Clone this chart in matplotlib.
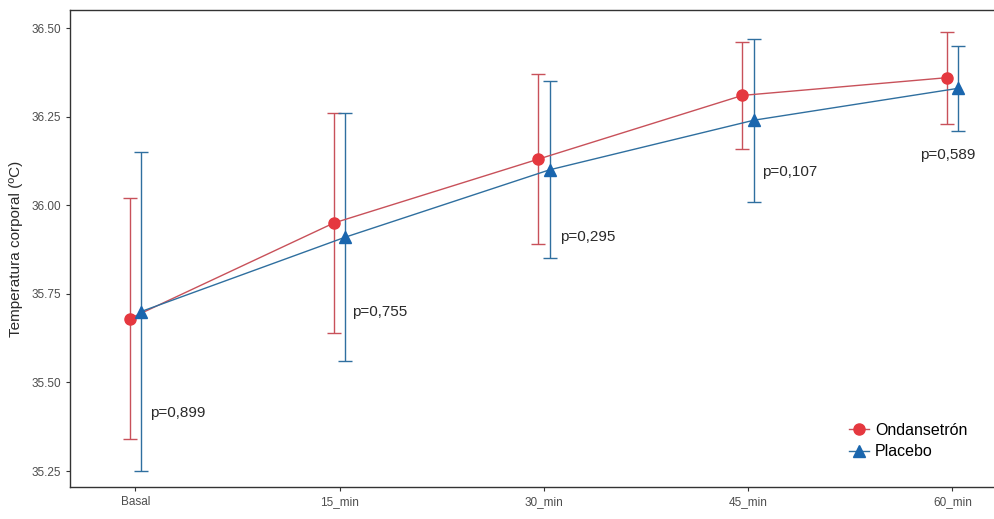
import matplotlib.pyplot as plt

plt.rcParams['font.family'] = ['Liberation Sans', 'DejaVu Sans']

tiempos = ['Basal', '15_min', '30_min', '45_min', '60_min']

ond_media = [35.68, 35.95, 36.13, 36.31, 36.36]
ond_inf = [35.34, 35.64, 35.89, 36.16, 36.23]
ond_sup = [36.02, 36.26, 36.37, 36.46, 36.49]

plac_media = [35.70, 35.91, 36.10, 36.24, 36.33]
plac_inf = [35.25, 35.56, 35.85, 36.01, 36.21]
plac_sup = [36.15, 36.26, 36.35, 36.47, 36.45]

p_valores = ['p=0,899', 'p=0,755', 'p=0,295', 'p=0,107', 'p=0,589']
p_x = [0.07, 1.06, 2.08, 3.07, 3.84]
p_y = [35.414, 35.699, 35.91, 36.094, 36.142]

rojo = '#E5383F'
azul = '#1A66AE'
d = 0.028

fig = plt.figure(figsize=(9.94, 5.19), dpi=100)
# the right edge of the panel is cut off in the original
ax = fig.add_axes([0.0704, 0.0617, 0.936, 0.919])

x = range(len(tiempos))
xr = [i - d for i in x]
xb = [i + d for i in x]

ond_err = [[m - l for m, l in zip(ond_media, ond_inf)],
           [u - m for m, u in zip(ond_media, ond_sup)]]
plac_err = [[m - l for m, l in zip(plac_media, plac_inf)],
            [u - m for m, u in zip(plac_media, plac_sup)]]

ax.errorbar(xr, ond_media, yerr=ond_err, fmt='none', ecolor='#C8515A',
            elinewidth=1, capsize=5, capthick=1)
ax.errorbar(xb, plac_media, yerr=plac_err, fmt='none', ecolor='#2F6F9F',
            elinewidth=1, capsize=5, capthick=1)
ax.plot(xr, ond_media, color='#C8515A', linewidth=1, marker='o',
        markersize=8, markerfacecolor=rojo, markeredgecolor=rojo,
        label='Ondansetrón')
ax.plot(xb, plac_media, color='#2F6F9F', linewidth=1, marker='^',
        markersize=8, markerfacecolor=azul, markeredgecolor=azul,
        label='Placebo')

for t, px, py in zip(p_valores, p_x, p_y):
    ax.text(px, py, t, fontsize=11, color='#2A2A2A', va='center', ha='left')

ax.set_xlim(-0.32, 4.235)
ax.set_ylim(35.205, 36.551)
ax.set_xticks(list(x))
ax.set_xticklabels(tiempos)
ax.set_yticks([35.25, 35.50, 35.75, 36.00, 36.25, 36.50])
ax.set_yticklabels(['35.25', '35.50', '35.75', '36.00', '36.25', '36.50'])
ax.tick_params(labelsize=8.5, labelcolor='#4D4D4D', length=3, width=0.8,
               color='#333333')
ax.set_ylabel('Temperatura corporal (ºC)', fontsize=11, color='#2A2A2A',
              labelpad=6)
for s in ax.spines.values():
    s.set_linewidth(1)
    s.set_color('#333333')

ax.legend(loc='lower right', bbox_to_anchor=(0.98, 0.028), frameon=False,
          fontsize=11.5, handlelength=1.2, handletextpad=0.4, labelspacing=0.4)

fig.savefig('out.png', dpi=100)
